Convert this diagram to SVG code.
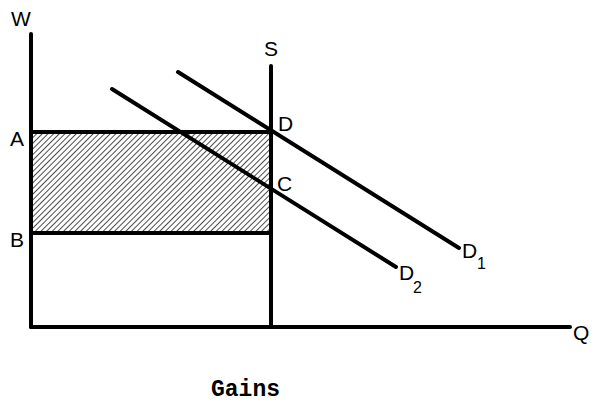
<svg xmlns="http://www.w3.org/2000/svg" width="602" height="412" viewBox="0 0 602 412">
<style>
.ln{stroke:#000;stroke-width:4;stroke-linecap:round;fill:none}
.lb{font-family:"Liberation Sans",Arial,sans-serif;font-size:21px;fill:#000}
.sub{font-family:"Liberation Sans",Arial,sans-serif;font-size:16px;fill:#000}
.cap{font-family:"Liberation Mono","Courier New",monospace;font-size:23px;font-weight:bold;fill:#000}
</style>
<defs>
<pattern id="hatch" patternUnits="userSpaceOnUse" width="4" height="4" patternTransform="rotate(45)">
<line x1="0" y1="0" x2="0" y2="4" stroke="#000" stroke-width="1.4"/>
</pattern>
</defs>
<g id="gain-area">
<rect x="31" y="132" width="240" height="101" fill="url(#hatch)"/>
</g>
<g id="connectors">
<line class="ln" x1="31" y1="34" x2="31" y2="327"/>
<line class="ln" x1="31" y1="327" x2="570" y2="327"/>
<line class="ln" x1="271" y1="66" x2="271" y2="327"/>
<line class="ln" x1="31" y1="132" x2="271" y2="132"/>
<line class="ln" x1="31" y1="233" x2="271" y2="233"/>
<line class="ln" x1="178" y1="72" x2="459" y2="248"/>
<line class="ln" x1="112" y1="89" x2="396" y2="267"/>
</g>
<g id="labels">
<text class="lb" x="11" y="26">W</text>
<text class="lb" x="264" y="56">S</text>
<text class="lb" x="10" y="146">A</text>
<text class="lb" x="10" y="247">B</text>
<text class="lb" x="278" y="131">D</text>
<text class="lb" x="277" y="191">C</text>
<text class="lb" x="462" y="258">D</text><text class="sub" x="477" y="269">1</text>
<text class="lb" x="399" y="280">D</text><text class="sub" x="413" y="293">2</text>
<text class="lb" x="573" y="340">Q</text>
<text class="cap" x="211" y="396">Gains</text>
</g>
</svg>
